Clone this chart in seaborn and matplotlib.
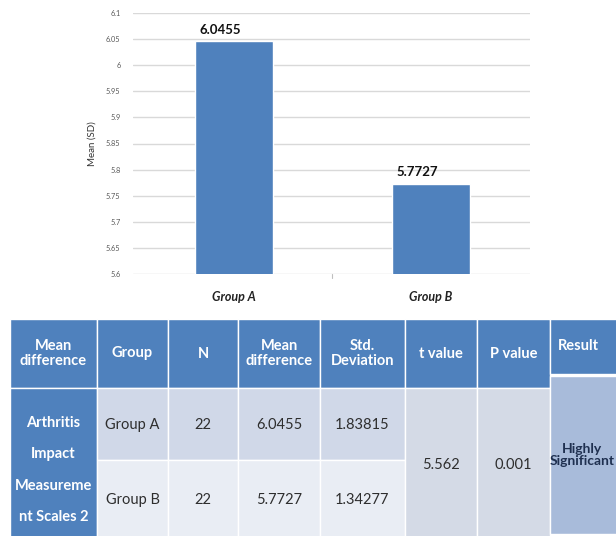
import matplotlib
matplotlib.use("Agg")
import matplotlib.pyplot as plt
import pandas as pd
import seaborn as sns
from matplotlib.patches import Rectangle

# ---- data ----
groups = ["Group A", "Group B"]
means = [6.0455, 5.7727]
sample_sizes = [22, 22]
std_devs = [1.83815, 1.34277]
t_value = "5.562"
p_value = "0.001"
result_text = "Highly\nSignificant"
measure_name = "Arthritis\nImpact\nMeasureme\nnt Scales 2"
y_ticks = [5.6, 5.65, 5.7, 5.75, 5.8, 5.85, 5.9, 5.95, 6.0, 6.05, 6.1]
table_headers = ["Mean\ndifference", "Group", "N", "Mean\ndifference",
                 "Std.\nDeviation", "t value", "P value", "Result"]

BLUE = "#4F81BD"

sns.set_theme(style="white")
plt.rcParams["font.family"] = ["Lato", "DejaVu Sans"]

W, H = 616, 536
fig = plt.figure(figsize=(W / 100, H / 100), dpi=100)

# ---- bar chart ----
ax = fig.add_axes([133 / W, 1 - 274 / H, 397 / W, 261 / H], zorder=2)
df = pd.DataFrame({"group": groups, "mean": means})
sns.barplot(data=df, x="group", y="mean", color=BLUE, saturation=1,
            width=0.4, ax=ax, zorder=3)
ax.set_ylim(5.6, 6.1)
ax.set_xlim(-0.513, 1.503)
ax.set_yticks(y_ticks)
ax.set_yticklabels([f"{v:g}" for v in y_ticks])
ax.yaxis.grid(True, color="#D9D9D9", lw=1.0)
ax.set_axisbelow(True)
for s in ax.spines.values():
    s.set_visible(False)
ax.tick_params(axis="y", length=0, labelsize=5.3, labelcolor="#595959", pad=9)
ax.tick_params(axis="x", length=0, pad=12)
for lbl in ax.get_xticklabels():
    lbl.set_fontsize(9)
    lbl.set_fontweight("bold")
    lbl.set_fontstyle("italic")
    lbl.set_color("#222222")
ax.set_xlabel("")
ax.set_ylabel("Mean (SD)", fontsize=7, color="#333333")
ax.yaxis.set_label_coords(-36 / 397, 0.5)
# small category separator tick on the baseline
ax.plot([0.5, 0.5], [5.6, 5.593], color="#BFBFBF", lw=0.8, clip_on=False)

for i, m in enumerate(means):
    ax.annotate(f"{m:.4f}", xy=(i - 0.07, m), xytext=(0, 4),
                textcoords="offset points", ha="center", va="bottom",
                fontsize=9.5, fontweight="bold", color="#111111")

# ---- summary table ----
tx = fig.add_axes([0, 0, 1, 1], zorder=1)
tx.set_xlim(0, W)
tx.set_ylim(H, 0)
tx.axis("off")

col_edges = [10, 97, 168, 238, 320, 405, 477, 550, 660]
hdr_top, hdr_bot, mid, bot = 319, 388, 460, 545
row1_col = "#D0D8E8"
row2_col = "#E9EDF4"
merged_col = "#D4DAE6"
result_col = "#A8BBDA"


def cell(x0, x1, y0, y1, color):
    tx.add_patch(Rectangle((x0, y0), x1 - x0, y1 - y0, facecolor=color,
                           edgecolor="white", lw=1.0))


# header row
for j, name in enumerate(table_headers):
    x0, x1 = col_edges[j], col_edges[j + 1]
    y1 = 374 if j == 7 else hdr_bot
    cell(x0, x1, hdr_top, y1, BLUE)
    cx = 578 if j == 7 else (x0 + x1) / 2
    tx.text(cx, (hdr_top + y1) / 2, name, ha="center", va="center",
            color="white", fontsize=10.5, fontweight="bold", linespacing=1.15)

# first column (measure name spanning both rows)
cell(col_edges[0], col_edges[1], hdr_bot, bot, BLUE)
tx.text((col_edges[0] + col_edges[1]) / 2, 470, measure_name, ha="center",
        va="center", color="white", fontsize=10.5, fontweight="bold",
        linespacing=2.55)

# per-group rows
row_bounds = [(hdr_bot, mid, row1_col), (mid, bot, row2_col)]
for r in range(len(groups)):
    y0, y1, colr = row_bounds[r]
    vals = [groups[r], str(sample_sizes[r]), f"{means[r]:.4f}", f"{std_devs[r]:.5f}"]
    cy = 425 if r == 0 else 500
    for k, v in enumerate(vals):
        x0, x1 = col_edges[k + 1], col_edges[k + 2]
        cell(x0, x1, y0, y1, colr)
        tx.text((x0 + x1) / 2, cy, v, ha="center", va="center",
                color="#2E2E2E", fontsize=10.5)

# merged statistic cells
for j, v in zip([5, 6], [t_value, p_value]):
    x0, x1 = col_edges[j], col_edges[j + 1]
    cell(x0, x1, hdr_bot, bot, merged_col)
    tx.text((x0 + x1) / 2, 465, v, ha="center", va="center",
            color="#2E2E2E", fontsize=10.5)

cell(col_edges[7], col_edges[8], 376, 534, result_col)
tx.text(582, 455, result_text, ha="center", va="center", color="#1F3050",
        fontsize=10, fontweight="bold", linespacing=1.0)

fig.savefig("out.png", dpi=100)
